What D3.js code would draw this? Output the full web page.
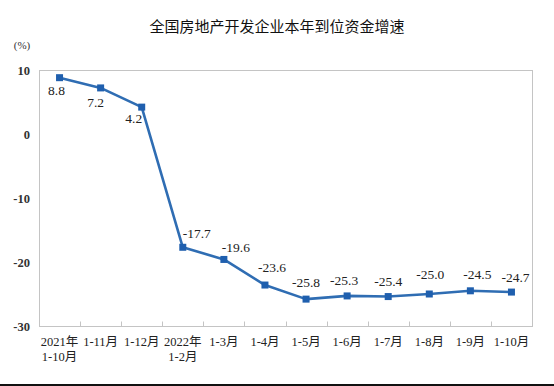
<!DOCTYPE html>
<html>
<head>
<meta charset="utf-8">
<script src="https://cdn.jsdelivr.net/npm/d3@7"></script>
<style>
  body { margin: 0; background: #fff; }
  svg { display: block; }
  .axis text { font-family: 'Liberation Serif', 'Noto Sans CJK SC', serif; fill: #222; }
</style>
</head>
<body>
<div id="chart"></div>
<script>
const title = '全国房地产开发企业本年到位资金增速';
const categories = ['2021年\n1-10月', '1-11月', '1-12月', '2022年\n1-2月', '1-3月', '1-4月',
  '1-5月', '1-6月', '1-7月', '1-8月', '1-9月', '1-10月'];
const values = [8.8, 7.2, 4.2, -17.7, -19.6, -23.6, -25.8, -25.3, -25.4, -25.0, -24.5, -24.7];
const yTicks = [10, 0, -10, -20, -30];
// label offsets relative to each point (dx, dy to baseline)
const labelOffsets = [[-3, 17], [-5, 19], [-8, 16], [14, -9], [12, -7], [7, -13],
  [0, -12], [-3, -11], [0, -11], [1, -15], [7, -12], [4, -10]];

const W = 554;
const H = 386;
const margin = { top: 70, right: 22, bottom: 60, left: 39 };
const width = W - margin.left - margin.right;
const height = H - margin.top - margin.bottom;

const svg = d3.select('#chart')
  .append('svg')
  .attr('width', W)
  .attr('height', H);

svg.append('text')
  .attr('x', 277)
  .attr('y', 32)
  .attr('text-anchor', 'middle')
  .style('font-family', "'Noto Sans CJK SC', sans-serif")
  .style('font-size', '15px')
  .style('fill', '#111')
  .text(title);

svg.append('text')
  .attr('x', 22)
  .attr('y', 49)
  .attr('text-anchor', 'middle')
  .style('font-family', "'Liberation Serif', 'Noto Sans CJK SC', serif")
  .style('font-size', '11px')
  .style('fill', '#333')
  .text('(%)');

const g = svg.append('g')
  .attr('transform', `translate(${margin.left},${margin.top})`);

const xScale = d3.scaleBand().domain(categories).range([0, width]);
const yScale = d3.scaleLinear().domain([-30, 10]).range([height, 0]);

// frame
g.append('rect')
  .attr('x', 0.5)
  .attr('y', 0.5)
  .attr('width', width)
  .attr('height', height)
  .attr('fill', 'none')
  .attr('stroke', '#c4c4c4');

// y axis
const yAxis = g.append('g')
  .attr('class', 'axis')
  .call(d3.axisLeft(yScale).tickValues(yTicks).tickSize(0).tickPadding(9).tickFormat(d => String(d)));
yAxis.select('.domain').remove();
yAxis.selectAll('text').style('font-size', '12.5px').style('font-weight', 'bold').style('fill', '#333');

// x axis: ticks pointing inward at band edges
const xAxis = g.append('g')
  .attr('class', 'axis')
  .attr('transform', `translate(0,${height + 0.5})`);
xAxis.append('path')
  .attr('d', `M0,0H${width}`)
  .attr('stroke', '#c4c4c4');
xAxis.selectAll('line.tick')
  .data(categories.slice(1))
  .enter()
  .append('line')
  .attr('class', 'tick')
  .attr('x1', d => Math.round(xScale(d)) + 0.5)
  .attr('x2', d => Math.round(xScale(d)) + 0.5)
  .attr('y1', 0)
  .attr('y2', -5)
  .attr('stroke', '#c4c4c4');

const xLabels = xAxis.selectAll('text.xl')
  .data(categories)
  .enter()
  .append('text')
  .attr('class', 'xl')
  .attr('text-anchor', 'middle')
  .attr('transform', d => `translate(${xScale(d) + xScale.bandwidth() / 2},19)`)
  .style('font-size', '12.5px')
  .style('fill', '#222');
xLabels.selectAll('tspan')
  .data(d => d.split('\n'))
  .enter()
  .append('tspan')
  .attr('x', 0)
  .attr('dy', (d, i) => (i === 0 ? 0 : 15))
  .text(d => d);

const cx = (d, i) => xScale(categories[i]) + xScale.bandwidth() / 2;

const line = d3.line()
  .x(cx)
  .y(d => yScale(d));

g.append('path')
  .datum(values)
  .attr('d', line)
  .attr('fill', 'none')
  .attr('stroke', '#2f6db3')
  .attr('stroke-width', 2.6)
  .attr('stroke-linejoin', 'round');

g.selectAll('.dot')
  .data(values)
  .enter()
  .append('rect')
  .attr('class', 'dot')
  .attr('x', (d, i) => cx(d, i) - 3.5)
  .attr('y', d => yScale(d) - 3.5)
  .attr('width', 7)
  .attr('height', 7)
  .attr('fill', '#1f5fae');

g.selectAll('.label')
  .data(values)
  .enter()
  .append('text')
  .attr('class', 'label')
  .attr('x', (d, i) => cx(d, i) + labelOffsets[i][0])
  .attr('y', (d, i) => yScale(d) + labelOffsets[i][1])
  .attr('text-anchor', 'middle')
  .style('font-family', "'Liberation Serif', serif")
  .style('font-size', '13.5px')
  .style('fill', '#222')
  .text(d => d.toFixed(1));

// bottom border of picture
svg.append('line')
  .attr('x1', 0)
  .attr('x2', W)
  .attr('y1', H - 1)
  .attr('y2', H - 1)
  .attr('stroke', '#111')
  .attr('stroke-width', 2);
</script>
</body>
</html>
